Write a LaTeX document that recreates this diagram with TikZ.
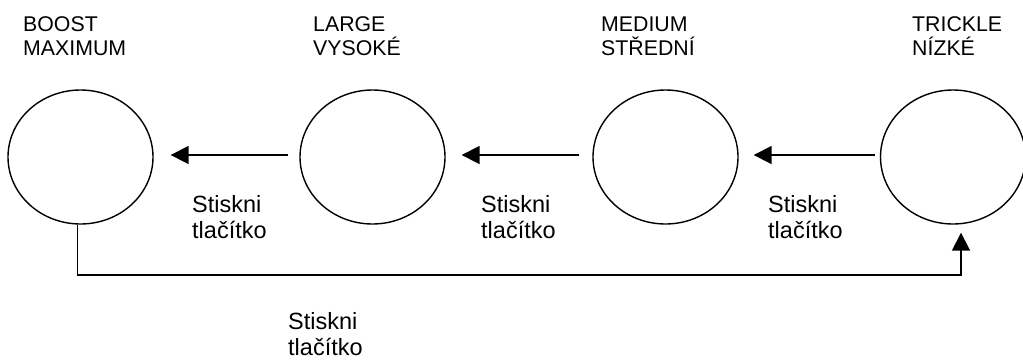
\documentclass[tikz,border=0pt]{standalone}
\usepackage{fontspec}
\setmainfont{Liberation Sans}
\usetikzlibrary{arrows.meta,shapes.geometric}
\begin{document}
\begin{tikzpicture}[x=1pt,y=-1pt,
  state/.style={draw,line width=1.4pt,ellipse,minimum width=145pt,minimum height=134pt,inner sep=0pt},
  arr/.style={line width=1.8pt,-{Triangle[length=18pt,width=18pt]}},
  toplbl/.style={anchor=base west,align=left,inner sep=0pt,font=\fontsize{21.3}{24}\selectfont},
  btmlbl/.style={anchor=base west,align=left,inner sep=0pt,font=\fontsize{23.5}{25.5}\selectfont}]
\useasboundingbox (0,0) rectangle (1023,360);
\node[state] (c1) at (80.5,157) {};
\node[state] (c2) at (372.5,157) {};
\node[state] (c3) at (665.5,157) {};
\node[state] (c4) at (953,157) {};
\node[toplbl] (t1) at (23,55) {BOOST\\MAXIMUM};
\node[toplbl] (t2) at (313,55) {LARGE\\VYSOKÉ};
\node[toplbl] (t3) at (601,55) {MEDIUM\\STŘEDNÍ};
\node[toplbl] (t4) at (912,55) {TRICKLE\\NÍZKÉ};
\node[btmlbl] (s1) at (192,238) {Stiskni\\tlačítko};
\node[btmlbl] (s2) at (481,238) {Stiskni\\tlačítko};
\node[btmlbl] (s3) at (768,238) {Stiskni\\tlačítko};
\node[btmlbl] (s4) at (288,355) {Stiskni\\tlačítko};
\draw[arr,shorten <=11pt,shorten >=17pt] ([yshift=2pt]c2.west) -- ([yshift=2pt]c1.east);
\draw[arr,shorten <=13pt,shorten >=16pt] ([yshift=2pt]c3.west) -- ([yshift=2pt]c2.east);
\draw[arr,shorten <=5pt,shorten >=15pt] ([yshift=2pt]c4.west) -- ([yshift=2pt]c3.east);
\coordinate (b1) at ([xshift=-3pt]c1.south);
\coordinate (b4) at ([xshift=8pt]c4.south);
\draw[line width=1.8pt,-{Triangle[length=18pt,width=18pt]},shorten >=8pt] (b1) -- ++(0,50) -| (b4);
\end{tikzpicture}
\end{document}
